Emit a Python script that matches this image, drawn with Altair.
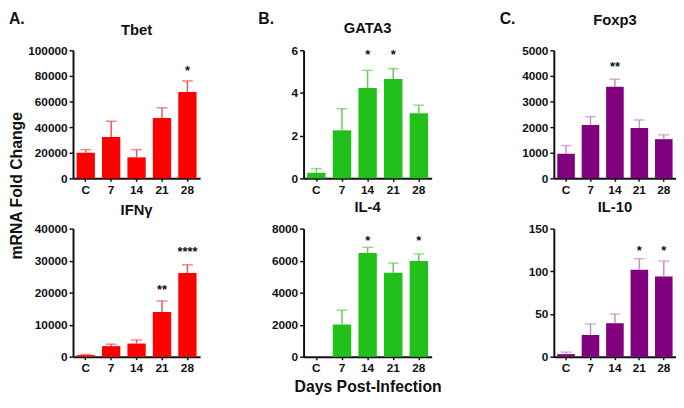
import altair as alt
import pandas as pd

FONT = "Liberation Sans"
cats = ["C", "7", "14", "21", "28"]

tbet_val = [20000, 32300, 16400, 47200, 67400]
tbet_hi = [22500, 44600, 22500, 55100, 76100]
tbet_star = ["", "", "", "", "*"]
tbet_star_y = [None, None, None, None, 86000]

ifng_val = [500, 3300, 4100, 13950, 26150]
ifng_hi = [700, 3900, 5200, 17400, 28700]
ifng_star = ["", "", "", "**", "****"]
ifng_star_y = [None, None, None, 21600, 33450]

gata3_val = [0.26, 2.25, 4.23, 4.65, 3.05]
gata3_hi = [0.46, 3.26, 5.06, 5.14, 3.43]
gata3_star = ["", "", "*", "*", ""]
gata3_star_y = [None, None, 5.9, 5.9, None]

il4_val = [0, 2010, 6480, 5250, 5970]
il4_hi = [None, 2910, 6830, 5850, 6420]
il4_star = ["", "", "*", "", "*"]
il4_star_y = [None, None, 7400, None, 7400]

foxp3_val = [960, 2080, 3580, 1970, 1530]
foxp3_hi = [1280, 2410, 3870, 2280, 1700]
foxp3_star = ["", "", "**", "", ""]
foxp3_star_y = [None, None, 4450, None, None]

il10_val = [3, 25.3, 39.2, 101.7, 94]
il10_hi = [5.4, 38.4, 49.9, 114.7, 112]
il10_star = ["", "", "", "*", "*"]
il10_star_y = [None, None, None, 126.6, 126.6]

y_title = ["mRNA Fold Change"]

RED, RED_ERR = "#FF0000", "#EE5555"
GREEN, GREEN_ERR = "#22C01A", "#66CC55"
PURPLE, PURPLE_ERR = "#800080", "#C98AC9"
INK = "#111111"


def panel(title, vals, his, stars, star_ys, color, errcolor, ymax, step,
          width, extent, title_offset, xtitle=None):
    df = pd.DataFrame({"cat": cats, "value": vals, "hi": his,
                       "star": stars, "star_y": star_ys})
    xaxis_kw = dict(labelAngle=0, tickSize=3, labelPadding=3,
                    minExtent=20, maxExtent=20)
    if xtitle:
        xaxis_kw.update(title=xtitle, titleFont=FONT, titleFontSize=16,
                        titleFontWeight="bold", titleColor=INK, titlePadding=2)
    else:
        xaxis_kw.update(title=None)
    x = alt.X("cat:N", sort=cats,
              scale=alt.Scale(paddingInner=0.28, paddingOuter=0.14),
              axis=alt.Axis(**xaxis_kw))
    yscale = alt.Scale(domain=[0, ymax], nice=False)
    yaxis = alt.Axis(values=list(range(0, ymax + 1, step)), format="d",
                     tickSize=4, labelPadding=2, labelOverlap=False,
                     minExtent=extent, maxExtent=extent, title=None)
    base = alt.Chart(df)
    bars = base.mark_bar(color=color).encode(
        x=x, y=alt.Y("value:Q", scale=yscale, axis=yaxis))
    rule = base.mark_rule(color=errcolor, strokeWidth=1.5).encode(
        x=x, y=alt.Y("value:Q", scale=yscale, axis=yaxis), y2="hi:Q")
    cap = base.mark_tick(color=errcolor, thickness=1.5, size=11).encode(
        x=x, y=alt.Y("hi:Q", scale=yscale, axis=yaxis))
    txt = base.mark_text(font=FONT, fontSize=13, fontWeight="bold", color=INK,
                         baseline="alphabetic", dy=7).encode(
        x=x, y=alt.Y("star_y:Q", scale=yscale, axis=yaxis), text="star:N")
    return alt.layer(bars, rule, cap, txt).properties(
        width=width, height=130,
        title=alt.TitleParams(title, font=FONT, fontSize=15, fontWeight="bold",
                              color=INK, offset=title_offset, frame="group"))


WA, WB, WC = 129, 130, 124

tbet = panel("Tbet", tbet_val, tbet_hi, tbet_star, tbet_star_y, RED, RED_ERR,
             100000, 20000, WA, 46, 6.5)
ifng = panel("IFNγ", ifng_val, ifng_hi, ifng_star, ifng_star_y, RED, RED_ERR,
             40000, 10000, WA, 46, 4.5)
gata3 = panel("GATA3", gata3_val, gata3_hi, gata3_star, gata3_star_y, GREEN,
              GREEN_ERR, 6, 2, WB, 33, 8.5)
il4 = panel("IL-4", il4_val, il4_hi, il4_star, il4_star_y, GREEN, GREEN_ERR,
            8000, 2000, WB, 33, 7.5, xtitle="Days Post-Infection")
foxp3 = panel("Foxp3", foxp3_val, foxp3_hi, foxp3_star, foxp3_star_y, PURPLE,
              PURPLE_ERR, 5000, 1000, WC, 33, 16.5)
il10 = panel("IL-10", il10_val, il10_hi, il10_star, il10_star_y, PURPLE,
             PURPLE_ERR, 150, 50, WC, 33, 7.5)

ytext = alt.Chart(pd.DataFrame({"t": y_title})).mark_text(
    angle=270, font=FONT, fontSize=16, fontWeight="bold", color=INK,
    baseline="middle", align="center",
).encode(text="t:N").properties(
    width=10, height=275, view=alt.ViewBackground(fill="white", strokeOpacity=0))


def label(text, offset, dx=0):
    kw = dict(font=FONT, fontSize=16, fontWeight="bold", color=INK,
              anchor="start", offset=offset)
    if dx:
        kw["dx"] = dx
    return alt.TitleParams(text, **kw)


colA = alt.hconcat(
    ytext, alt.vconcat(tbet, ifng, spacing=5), spacing=2
).properties(title=label("A.", -3.5))
colB = alt.vconcat(gata3, il4, spacing=2).properties(title=label("B.", -5.5, -13))
colC = alt.vconcat(foxp3, il10, spacing=2).properties(title=label("C.", -13.5, -22))

chart = alt.hconcat(colA, colB, colC, spacing=59).properties(
    padding=0,
).configure_view(stroke=None).configure_axis(
    domainColor=INK, domainWidth=2, tickColor=INK, tickWidth=1.5,
    labelFont=FONT, labelFontSize=12, labelFontWeight="bold", labelColor=INK,
    labelOverlap=False, grid=False,
)

chart.save("out.html", embed_options={"renderer": "svg", "actions": False})
